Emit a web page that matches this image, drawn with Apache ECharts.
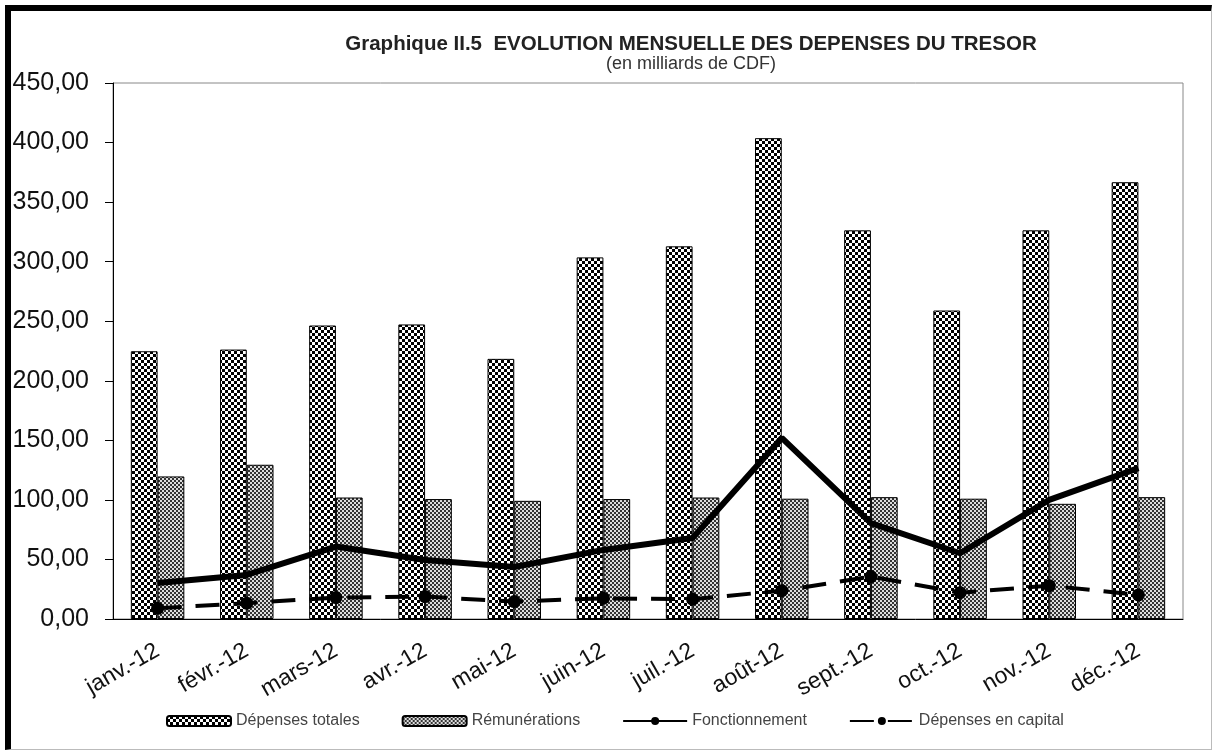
<!DOCTYPE html>
<html>
<head>
<meta charset="utf-8">
<title>Graphique II.5</title>
<script src="https://cdn.jsdelivr.net/npm/echarts@6/dist/echarts.min.js"></script>
<style>
  body { margin: 0; background: #fff; }
  #main { position: absolute; left: 0; top: 0; width: 1213px; height: 751px; }
  /* cadre du graphique */
  .frame {
    position: absolute; left: 5px; top: 5px; width: 1207px; height: 745px;
    box-sizing: border-box; pointer-events: none;
    border-left: 6px solid #000; border-top: 6px solid #000;
    border-right: 1px solid #bbb; border-bottom: 1px solid #bbb;
  }
</style>
</head>
<body>
<div id="main"></div>
<div class="frame"></div>
<script>
// mois
var months = ["janv.-12", "févr.-12", "mars-12", "avr.-12", "mai-12", "juin-12",
  "juil.-12", "août-12", "sept.-12", "oct.-12", "nov.-12", "déc.-12"];
// séries (milliards de CDF)
var depensesTotales = [224.8, 226.2, 246.4, 247.3, 218.4, 303.6, 312.9, 403.7, 326.3, 259.0, 326.3, 366.7];
var remunerations = [119.7, 129.5, 102.0, 100.7, 99.2, 100.7, 102.0, 101.0, 102.3, 101.0, 96.7, 102.3];
var fonctionnement = [30.3, 37.0, 60.8, 49.6, 43.7, 58.0, 68.0, 152.0, 80.5, 55.2, 100.0, 126.7];
var depensesCapital = [9.0, 13.3, 18.0, 18.8, 14.6, 17.4, 16.6, 23.8, 35.6, 22.1, 28.0, 20.2];
// graduations
var yTicks = { min: 0, max: 450, step: 50 };

// trames des barres
function checker(size, c1, c2) {
  var cv = document.createElement("canvas");
  cv.width = size * 2;
  cv.height = size * 2;
  var ctx = cv.getContext("2d");
  ctx.fillStyle = c1;
  ctx.fillRect(0, 0, size * 2, size * 2);
  ctx.fillStyle = c2;
  ctx.fillRect(0, 0, size, size);
  ctx.fillRect(size, size, size, size);
  return cv;
}
var trameTotales = { image: checker(3, "#000", "#fff"), repeat: "repeat" };
var trameRemun = { image: checker(2, "#333", "#ddd"), repeat: "repeat" };

var chart = echarts.init(document.getElementById("main"));
var font = "'Liberation Sans', Arial, sans-serif";

var option = {
  animation: false,
  title: {
    text: "Graphique II.5  EVOLUTION MENSUELLE DES DEPENSES DU TRESOR",
    subtext: "(en milliards de CDF)",
    left: 686,
    top: 29,
    textAlign: "center",
    itemGap: 0,
    textStyle: { fontFamily: font, fontSize: 20.5, fontWeight: "bold", color: "#222" },
    subtextStyle: { fontFamily: font, fontSize: 18, color: "#333" }
  },
  legend: {
    left: 161,
    top: 708,
    itemWidth: 64,
    itemHeight: 10,
    itemGap: 42,
    textStyle: { fontFamily: font, fontSize: 16, color: "#444" },
    data: ["Dépenses totales", "Rémunérations", "Fonctionnement", "Dépenses en capital"]
  },
  grid: {
    left: 113,
    right: 30,
    top: 83,
    bottom: 132,
    show: true,
    borderColor: "#888",
    borderWidth: 1
  },
  xAxis: {
    type: "category",
    data: months,
    axisLine: { lineStyle: { color: "#000", width: 1 } },
    axisTick: { lineStyle: { color: "#000" }, length: 8 },
    axisLabel: {
      rotate: 30,
      margin: 30,
      fontFamily: font,
      fontSize: 23,
      color: "#111"
    }
  },
  yAxis: {
    type: "value",
    min: yTicks.min,
    max: yTicks.max,
    interval: yTicks.step,
    splitLine: { show: false },
    axisLine: { show: true, lineStyle: { color: "#000", width: 1 } },
    axisTick: { show: true, length: 8, lineStyle: { color: "#000" } },
    axisLabel: {
      margin: 24,
      fontFamily: font,
      fontSize: 25,
      color: "#111",
      formatter: function (v) { return v.toFixed(2).replace(".", ","); }
    }
  },
  series: [
    {
      name: "Dépenses totales",
      type: "bar",
      barGap: "0%",
      barCategoryGap: "40%",
      itemStyle: { color: trameTotales, borderColor: "#000", borderWidth: 1 },
      data: depensesTotales
    },
    {
      name: "Rémunérations",
      type: "bar",
      itemStyle: { color: trameRemun, borderColor: "#000", borderWidth: 1 },
      data: remunerations
    },
    {
      name: "Fonctionnement",
      type: "line",
      symbol: "none",
      itemStyle: { color: "#000" },
      lineStyle: { color: "#000", width: 6 },
      data: fonctionnement
    },
    {
      name: "Dépenses en capital",
      type: "line",
      symbol: "circle",
      symbolSize: 13,
      itemStyle: { color: "#000" },
      lineStyle: { color: "#000", width: 4, type: [24, 14] },
      data: depensesCapital
    }
  ]
};
chart.setOption(option);
</script>
</body>
</html>
